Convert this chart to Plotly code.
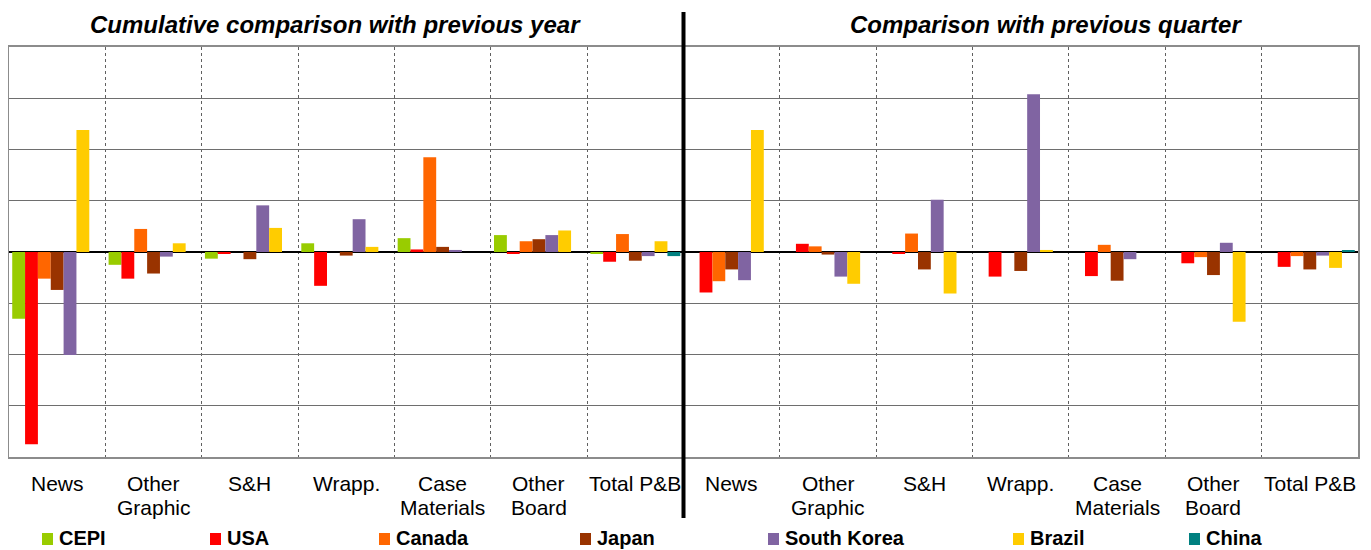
import plotly.graph_objects as go

# category labels (one list per panel, same products in both)
products = [["News"], ["Other", "Graphic"], ["S&H"], ["Wrapp."],
            ["Case", "Materials"], ["Other", "Board"], ["Total P&B"]]
panel_titles = ["Cumulative comparison with previous year",
                "Comparison with previous quarter"]

# values: first 7 = cumulative vs previous year, last 7 = vs previous quarter
cepi = [-1.30, -0.25, -0.13, 0.17, 0.27, 0.33, -0.02,
        0, 0, 0, 0, 0, 0, 0]
usa = [-3.75, -0.52, -0.03, -0.66, 0.05, -0.02, -0.19,
       -0.79, 0.16, -0.03, -0.48, -0.47, -0.22, -0.29]
canada = [-0.52, 0.45, 0, 0, 1.85, 0.21, 0.35,
          -0.57, 0.11, 0.36, 0, 0.14, -0.10, -0.08]
japan = [-0.74, -0.42, -0.14, -0.07, 0.10, 0.25, -0.17,
         -0.34, -0.05, -0.34, -0.37, -0.56, -0.45, -0.34]
korea = [-2.01, -0.09, 0.91, 0.64, 0.04, 0.33, -0.08,
         -0.55, -0.48, 1.02, 3.08, -0.14, 0.18, -0.07]
brazil = [2.38, 0.17, 0.47, 0.10, 0, 0.42, 0.21,
          2.38, -0.62, -0.81, 0.04, 0, -1.36, -0.31]
china = [0, 0, 0, 0, 0, 0, -0.08,
         0, 0, 0, 0, 0, 0, 0.03]

series = [("CEPI", cepi, "#99CC00"), ("USA", usa, "#FF0000"),
          ("Canada", canada, "#FF6600"), ("Japan", japan, "#993300"),
          ("South Korea", korea, "#8064A2"), ("Brazil", brazil, "#FFCC00"),
          ("China", china, "#008080")]

# page body has an 8px margin, so the figure is a bit smaller than the window
OFF = 8
W, H = 1371 - OFF, 550 - OFF
# plot area in window pixels: x 9..1358, y 47..457
X0, X1, Y0, Y1 = 9, 1358, 47, 457
L, R, T, B = X0 - OFF, 1371 - X1, Y0 - OFF, 550 - Y1
pw, ph = X1 - X0, Y1 - Y0

def px(x):  # window pixel -> paper x
    return (x - X0) / pw

def py(y):  # window pixel -> paper y
    return (Y1 - y) / ph

xs = list(range(2 * len(products)))
font = "Liberation Sans, Arial, sans-serif"

fig = go.Figure()
for name, vals, col in series:
    fig.add_trace(go.Bar(x=xs, y=vals, name=name, marker_color=col,
                         marker_line_width=0, showlegend=False))

ann = []
# category labels under the axis
for i, lab in enumerate(products * 2):
    for k, line in enumerate(lab):
        ann.append(dict(x=i, xref="x", y=0, yref="paper", text=line,
                        showarrow=False, xanchor="center", yanchor="middle",
                        yshift=-26 - 24 * k,
                        font=dict(family=font, size=21, color="black")))

# panel titles
for t, cx in zip(panel_titles, [335, 1046]):
    ann.append(dict(x=px(cx), xref="paper", y=py(25), yref="paper",
                    text="<b><i>%s</i></b>" % t, showarrow=False,
                    xanchor="center", yanchor="middle",
                    font=dict(family=font, size=24, color="black")))

# hand placed legend, like the original
leg_x = [42, 210, 379, 580, 768, 1013, 1189]
shapes = []
for (name, vals, col), lx in zip(series, leg_x):
    shapes.append(dict(type="rect", xref="paper", yref="paper",
                       x0=px(lx), x1=px(lx + 11), y0=py(545), y1=py(533),
                       fillcolor=col, line_width=0))
    ann.append(dict(x=px(lx + 15), xref="paper", y=py(538), yref="paper",
                    text="<b>%s</b>" % name, showarrow=False,
                    xanchor="left", yanchor="middle",
                    font=dict(family=font, size=20, color="black")))

# thick divider between the two panels
shapes.append(dict(type="line", xref="x", yref="paper", x0=6.5, x1=6.5,
                   y0=py(518), y1=py(12), line=dict(color="black", width=4)))

fig.update_layout(
    width=W, height=H,
    margin=dict(l=L, r=R, t=T, b=B),
    paper_bgcolor="white", plot_bgcolor="white",
    barmode="group", bargap=0.067, bargroupgap=0,
    annotations=ann, shapes=shapes,
    xaxis=dict(range=[-0.5, 13.5], tick0=0.5, dtick=1, showticklabels=False,
               showgrid=True, gridcolor="#606060", griddash="3px,3px",
               gridwidth=1, zeroline=False, ticks="",
               showline=True, mirror=True, linecolor="#8c8c8c", linewidth=2),
    yaxis=dict(range=[-4, 4], dtick=1, showticklabels=False, ticks="",
               showgrid=True, gridcolor="#6e6e6e", gridwidth=1,
               zeroline=True, zerolinecolor="black", zerolinewidth=1.5,
               showline=True, mirror=True, linecolor="#8c8c8c", linewidth=2),
)

fig.write_html("out.html")
